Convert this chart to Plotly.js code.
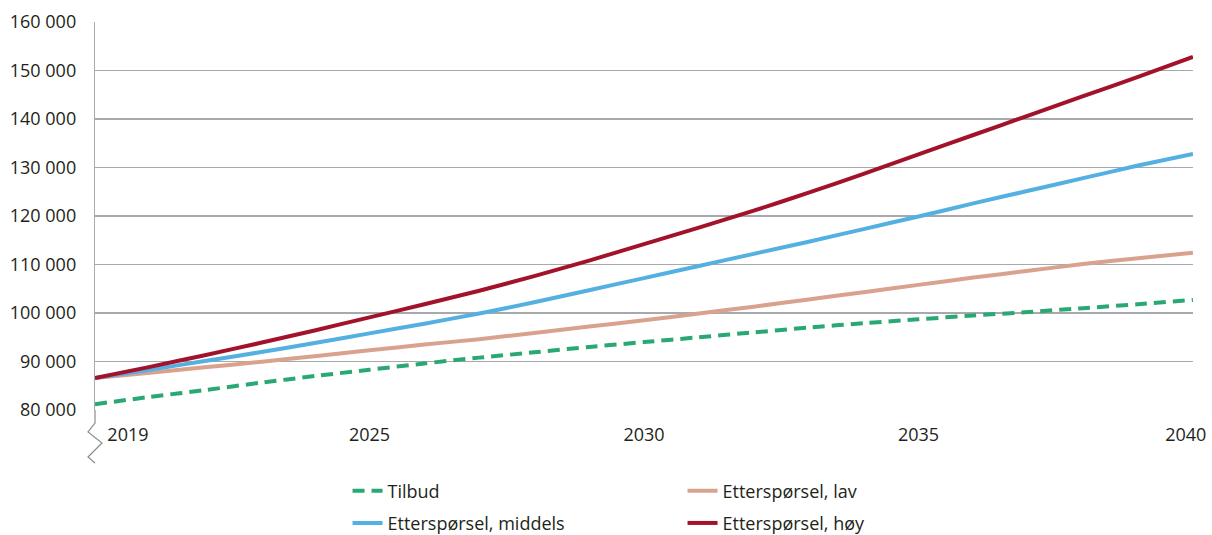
<!DOCTYPE html>
<html>
<head>
<meta charset="utf-8">
<script src="https://cdn.plot.ly/plotly-3.0.1.min.js"></script>
<style>html,body{margin:0;padding:0;background:#fff;}#chart{width:1212px;height:535px;}</style>
</head>
<body>
<div id="chart"></div>
<script>
// Years (first point is the 2019 start value, drawn at the broken axis start)
const years = [2020, 2021, 2022, 2023, 2024, 2025, 2026, 2027, 2028, 2029, 2030,
               2031, 2032, 2033, 2034, 2035, 2036, 2037, 2038, 2039, 2040];
const tilbud = [81200, 82700, 84100, 85600, 87000, 88300, 89600, 90800, 91900, 93000, 94000,
                95000, 96000, 97000, 97900, 98700, 99500, 100200, 101000, 101800, 102700];
const lav = [86600, 87700, 88800, 89900, 91100, 92300, 93500, 94600, 95900, 97200, 98500,
             99900, 101300, 102800, 104300, 105800, 107300, 108700, 110100, 111300, 112400];
const middels = [86600, 88300, 90100, 91900, 93800, 95800, 97800, 99900, 102200, 104700, 107200,
                 109700, 112200, 114700, 117300, 119900, 122600, 125200, 127800, 130400, 132800];
const hoy = [86600, 88900, 91300, 93800, 96400, 99100, 101800, 104600, 107600, 110800, 114200,
             117600, 121100, 124800, 128700, 132700, 136700, 140700, 144700, 148700, 152800];
const tickPos = [2020.6, 2025, 2030, 2035, 2039.87];
const tickLabels = ['2019', '2025', '2030', '2035', '2040'];
const yTicks = [80000, 90000, 100000, 110000, 120000, 130000, 140000, 150000, 160000];

const font = {family: 'Open Sans, sans-serif', size: 18, color: '#231f20'};
const traces = [
  {name: 'Tilbud', y: tilbud, color: '#2aa874', dash: '12px,7px', legend: 'legend'},
  {name: 'Etterspørsel, lav', y: lav, color: '#d9a28f', dash: 'solid', legend: 'legend'},
  {name: 'Etterspørsel, middels', y: middels, color: '#55b0e2', dash: 'solid', legend: 'legend2'},
  {name: 'Etterspørsel, høy', y: hoy, color: '#a3122b', dash: 'solid', legend: 'legend2'}
].map(t => ({
  type: 'scatter', mode: 'lines', x: years, y: t.y, name: t.name, legend: t.legend,
  line: {color: t.color, width: 4, dash: t.dash, shape: 'spline', smoothing: 0.5},
  hoverinfo: 'skip'
}));

const legendBase = {
  orientation: 'h', xref: 'paper', yref: 'container', xanchor: 'left', yanchor: 'middle',
  x: 0.23, entrywidth: 290, entrywidthmode: 'pixels', font: font,
  bgcolor: 'rgba(0,0,0,0)', traceorder: 'normal'
};

const layout = {
  width: 1212, height: 535,
  margin: {l: 95, r: 19, t: 22, b: 125, autoexpand: false},
  paper_bgcolor: '#fff', plot_bgcolor: '#fff',
  separators: ', ',
  font: font,
  showlegend: true,
  xaxis: {
    range: [2020, 2040.001], tickmode: 'array', tickvals: tickPos, ticktext: tickLabels,
    showgrid: false, zeroline: false, showline: false, ticks: '',
    ticklabelstandoff: 12, ticklabeloverflow: 'allow', tickfont: font,
    fixedrange: true, automargin: false
  },
  yaxis: {
    range: [80000, 160000], tickmode: 'array', tickvals: yTicks, tickformat: ',d',
    showgrid: true, gridcolor: '#a7a9ac', gridwidth: 1.2, zeroline: false,
    showline: true, linecolor: '#a7a9ac', linewidth: 1.2, ticks: '',
    ticklabelstandoff: 14, tickfont: font, fixedrange: true, automargin: false
  },
  legend: Object.assign({}, legendBase, {y: 0.082}),
  legend2: Object.assign({}, legendBase, {y: 0.022}),
  shapes: [{
    type: 'path', xref: 'paper', yref: 'paper', xsizemode: 'pixel', ysizemode: 'pixel',
    xanchor: 0, yanchor: 0,
    path: 'M0,0 L0,-13 L-7,-22 L7,-33 L-7,-47 L0,-53',
    line: {color: '#8a8c8f', width: 1.2}
  }]
};

Plotly.newPlot('chart', traces, layout, {displayModeBar: false, staticPlot: true});
</script>
</body>
</html>
